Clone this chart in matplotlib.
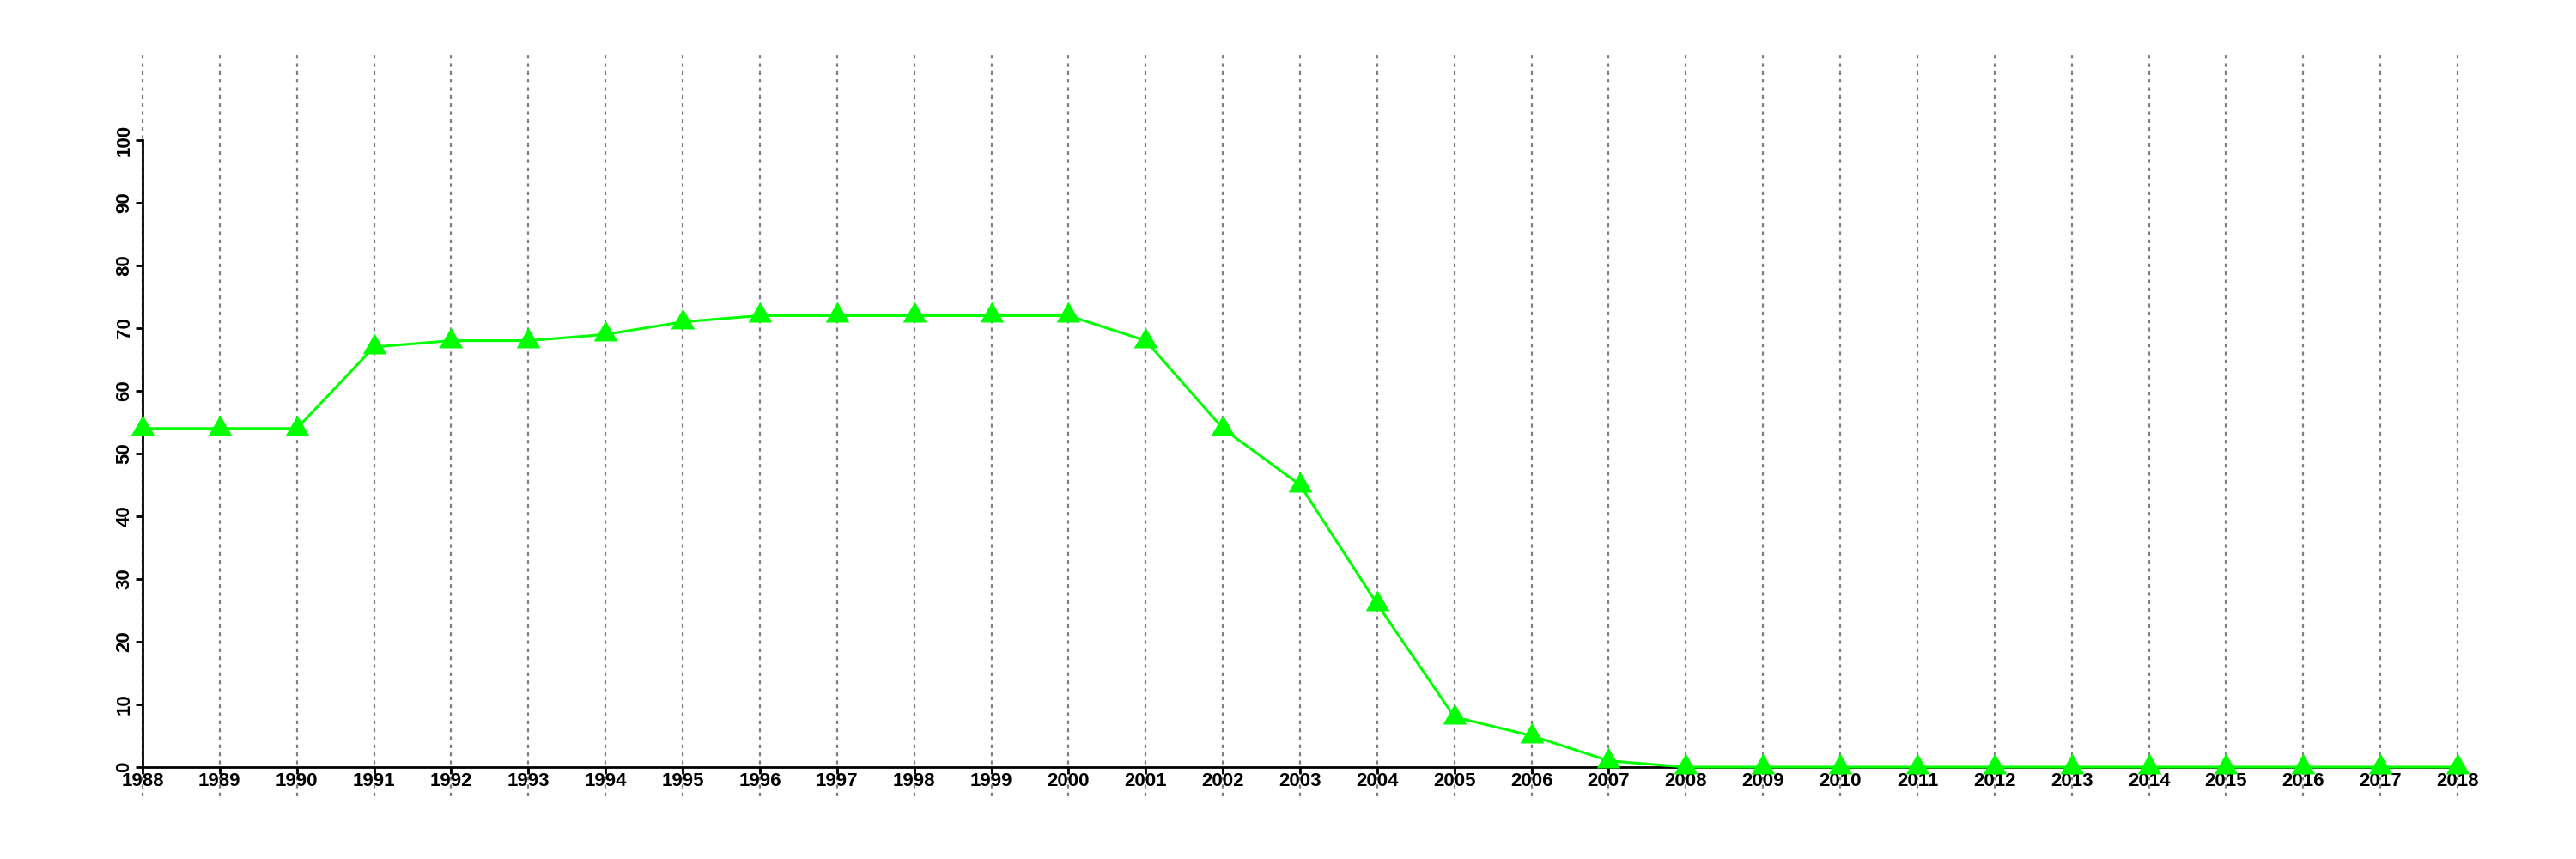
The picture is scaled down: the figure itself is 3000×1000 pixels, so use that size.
import matplotlib
matplotlib.use("Agg")
import matplotlib.pyplot as plt
from matplotlib.path import Path

years = list(range(1988, 2019))
values = [54, 54, 54, 67, 68, 68, 69, 71, 72, 72, 72, 72, 72, 68, 54, 45, 26, 8, 5, 1,
          0, 0, 0, 0, 0, 0, 0, 0, 0, 0, 0]
yticks = [0, 10, 20, 30, 40, 50, 60, 70, 80, 90, 100]

plt.rcParams['font.family'] = ['Liberation Sans', 'DejaVu Sans']
plt.rcParams['font.weight'] = 'bold'

fig = plt.figure(figsize=(30, 10), dpi=100)
ax = fig.add_axes([166/3000, 1-893/1000, (2862-166)/3000, (893-163)/1000])
ax.set_xlim(1988, 2018)
ax.set_ylim(0, 100)

# vertical dotted gridlines extending beyond plot region
for yr in years:
    ax.axvline(yr, ymin=(893-927)/730, ymax=(893-60)/730, color='#7f7f7f',
               linewidth=1.6, linestyle=(0, (1.9, 2.3)), clip_on=False, zorder=1)

tri = Path([(0, 1), (-0.866, -0.5), (0.866, -0.5), (0, 1)],
           [Path.MOVETO, Path.LINETO, Path.LINETO, Path.CLOSEPOLY])
ax.plot(years, values, color='#00ff00', linewidth=2.2, marker=tri, markersize=23,
        markeredgewidth=0, markerfacecolor='#00ff00', clip_on=False, zorder=5)

for s in ['top', 'right']:
    ax.spines[s].set_visible(False)
for s in ['left', 'bottom']:
    ax.spines[s].set_linewidth(2)
    ax.spines[s].set_zorder(4)

ax.set_xticks(years)
ax.set_xticklabels([str(y) for y in years])
ax.set_yticks(yticks)
ax.set_yticklabels([str(v) for v in yticks], rotation=90, va='center')
ax.tick_params(axis='x', length=5.5, width=2, pad=-1.5, labelsize=16)
ax.tick_params(axis='y', length=5.5, width=2, pad=2, labelsize=16)

fig.savefig('out.png', dpi=100)
